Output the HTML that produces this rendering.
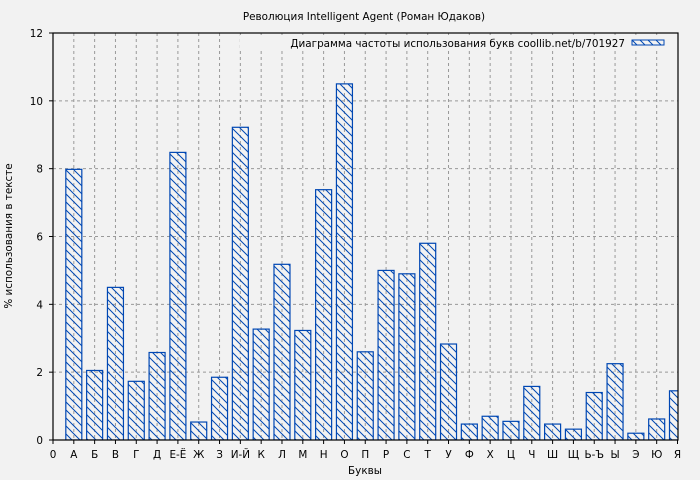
<!DOCTYPE html>
<html><head><meta charset="utf-8"><style>body{margin:0;background:#f2f2f2}svg{display:block}text{font-family:"DejaVu Sans","Liberation Sans",sans-serif;font-size:10.4px;fill:#000}</style></head><body>
<svg width="700" height="480" xmlns="http://www.w3.org/2000/svg">
<defs><pattern id="h" patternUnits="userSpaceOnUse" width="8" height="8"><path d="M-1,-1 L9,9 M-9,-1 L1,9 M7,-1 L17,9" stroke="#0047b3" stroke-width="1"/></pattern>
<clipPath id="c"><rect x="53" y="33" width="625" height="407"/></clipPath></defs>
<rect width="700" height="480" fill="#f2f2f2"/>
<text x="364" y="20" text-anchor="middle">Революция Intelligent Agent (Роман Юдаков)</text>
<g id="grid" stroke="#999" stroke-dasharray="3,3" stroke-width="1"></g>
<g id="bars" clip-path="url(#c)"></g>
<rect x="53" y="33" width="625" height="407" fill="none" stroke="#000" stroke-width="1.2"/>
<g id="ax"></g>
<rect x="240" y="35" width="430" height="16" fill="#f2f2f2"/>
<text x="625" y="47" text-anchor="end">Диаграмма частоты использования букв coollib.net/b/701927</text>
<rect x="632" y="40" width="32" height="5" fill="url(#h)" stroke="#0047b3"/>
<text x="365" y="474" text-anchor="middle">Буквы</text>
<text transform="translate(12,236) rotate(-90)" text-anchor="middle">% использования в тексте</text>
</svg>
<script>
var L=["О","А","Б","В","Г","Д","Е-Ё","Ж","З","И-Й","К","Л","М","Н","О","П","Р","С","Т","У","Ф","Х","Ц","Ч","Ш","Щ","Ь-Ъ","Ы","Э","Ю","Я"];
var V=[null,7.98,2.05,4.5,1.73,2.58,8.48,0.53,1.85,9.22,3.27,5.18,3.23,7.38,10.5,2.6,5.0,4.9,5.8,2.83,0.47,0.7,0.55,1.58,0.47,0.32,1.4,2.25,0.2,0.62,1.45];
var ns="http://www.w3.org/2000/svg";
function el(p,t,a,tx){var e=document.createElementNS(ns,t);for(var k in a)e.setAttribute(k,a[k]);if(tx!==undefined)e.textContent=tx;document.getElementById(p).appendChild(e);}
var s=624.5/30,py=407/12;
for(var i=1;i<30;i++){var x=53+i*s;el("grid","line",{x1:x,y1:33,x2:x,y2:440});}
for(var j=2;j<12;j+=2){var y=440-j*py;el("grid","line",{x1:53,y1:y,x2:678,y2:y});}
for(var i=0;i<=30;i++){var x=53+i*s;el("ax","line",{x1:x,y1:440,x2:x,y2:444,stroke:"#000"});el("ax","text",{x:x,y:458,"text-anchor":"middle"},i==0?"0":L[i]);
if(V[i]!=null){var h=V[i]*py;el("bars","rect",{x:x-8,y:440-h,width:16,height:h,fill:"url(#h)",stroke:"#0047b3","stroke-width":1.2});}}
for(var j=0;j<=12;j+=2){var y=440-j*py;el("ax","line",{x1:49,y1:y,x2:53,y2:y,stroke:"#000"});el("ax","text",{x:43,y:y+4,"text-anchor":"end"},j);}
</script>
</body></html>
